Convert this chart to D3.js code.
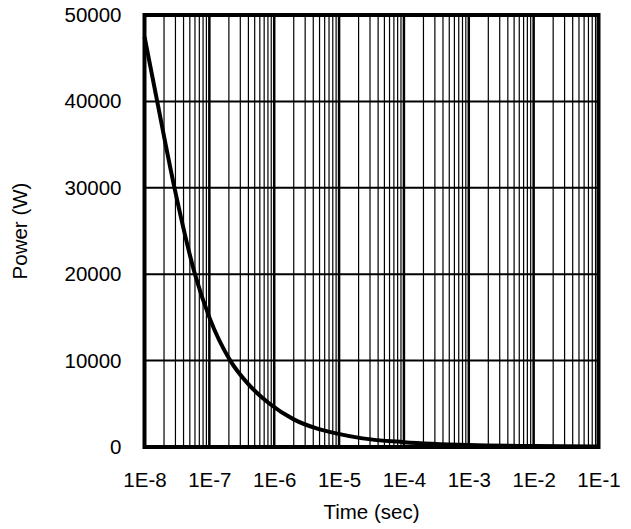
<!DOCTYPE html>
<html>
<head>
<meta charset="utf-8">
<script src="https://cdn.jsdelivr.net/npm/d3@7"></script>
<style>
  body { margin: 0; background: #fff; }
  text { font-family: "Liberation Sans", Arial, sans-serif; fill: #000; }
</style>
</head>
<body>
<div id="chart"></div>
<script>
// curve: time (s) and power (W)
var times  = [1e-8, 1.57e-8, 2.9e-8, 6e-8, 1e-7, 2.1e-7, 3.8e-7, 8.5e-7, 2e-6, 4.5e-6, 9e-6, 2.3e-5, 1e-4, 1e-3, 1e-2, 1e-1];
var powers = [47500, 40000, 30000, 20000, 15000, 10000, 7450, 5000, 3200, 2150, 1580, 1000, 560, 220, 110, 60];

var xTicks = [1e-8, 1e-7, 1e-6, 1e-5, 1e-4, 1e-3, 1e-2, 1e-1];
var xTickLabels = ["1E-8", "1E-7", "1E-6", "1E-5", "1E-4", "1E-3", "1E-2", "1E-1"];
var yTicks = [0, 10000, 20000, 30000, 40000, 50000];

var W = 631, H = 529;
var plotL = 144.5, plotR = 598.5, plotT = 15, plotB = 447;
var fontPx = "20.5px";

var svg = d3.select("#chart").append("svg")
    .attr("width", W)
    .attr("height", H);

var x = d3.scaleLog().domain([1e-8, 1e-1]).range([plotL, plotR]);
var y = d3.scaleLinear().domain([0, 50000]).range([plotB, plotT]);

//minor vertical gridlines, 2..9 in each decade
var minor = [];
for (var d = 0; d < xTicks.length - 1; d++) {
    for (var k = 2; k <= 9; k++) {
        minor.push(xTicks[d] * k);
    }
}
svg.append("g").selectAll("line").data(minor).enter().append("line")
    .attr("x1", function(v) { return x(v); })
    .attr("x2", function(v) { return x(v); })
    .attr("y1", plotT).attr("y2", plotB)
    .style("stroke", "#000").style("stroke-width", 1.2);

//major vertical gridlines
svg.append("g").selectAll("line").data(xTicks).enter().append("line")
    .attr("x1", function(v) { return x(v); })
    .attr("x2", function(v) { return x(v); })
    .attr("y1", plotT).attr("y2", plotB)
    .style("stroke", "#000").style("stroke-width", 2.5);

//horizontal gridlines
svg.append("g").selectAll("line").data(yTicks).enter().append("line")
    .attr("x1", plotL).attr("x2", plotR)
    .attr("y1", function(v) { return y(v); })
    .attr("y2", function(v) { return y(v); })
    .style("stroke", "#000").style("stroke-width", 2);

//the curve
var line = d3.line()
    .x(function(d, i) { return x(times[i]); })
    .y(function(d, i) { return y(powers[i]); })
    .curve(d3.curveMonotoneX);
svg.append("path").datum(powers)
    .attr("d", line)
    .style("fill", "none")
    .style("stroke", "#000")
    .style("stroke-width", 4)
    .style("stroke-linejoin", "round");

//plot frame
svg.append("rect")
    .attr("x", plotL).attr("y", plotT)
    .attr("width", plotR - plotL).attr("height", plotB - plotT)
    .style("fill", "none").style("stroke", "#000").style("stroke-width", 4);

//axes (labels only, lines drawn above)
var xAxis = d3.axisBottom(x).tickValues(xTicks)
    .tickFormat(function(v, i) { return xTickLabels[i]; })
    .tickSize(0).tickPadding(25);
var gx = svg.append("g").attr("transform", "translate(0," + plotB + ")").call(xAxis);
gx.select(".domain").remove();
gx.selectAll("text").style("font-size", fontPx).style("font-family", "Liberation Sans, Arial, sans-serif");

var yAxis = d3.axisLeft(y).tickValues(yTicks).tickFormat(d3.format("d"))
    .tickSize(0).tickPadding(23);
var gy = svg.append("g").attr("transform", "translate(" + plotL + ",0)").call(yAxis);
gy.select(".domain").remove();
gy.selectAll("text").style("font-size", fontPx).style("font-family", "Liberation Sans, Arial, sans-serif");

//axis titles
svg.append("text")
    .attr("x", (plotL + plotR) / 2).attr("y", 519)
    .attr("text-anchor", "middle")
    .style("font-size", fontPx)
    .text("Time (sec)");

svg.append("text")
    .attr("transform", "translate(27," + ((plotT + plotB) / 2) + ") rotate(-90)")
    .attr("text-anchor", "middle")
    .style("font-size", fontPx)
    .text("Power (W)");
</script>
</body>
</html>
